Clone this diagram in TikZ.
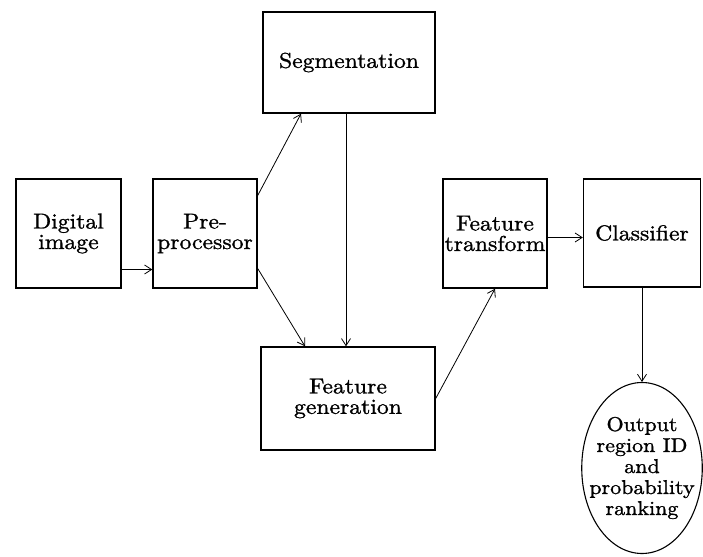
\documentclass[tikz,border=0pt]{standalone}
\usepackage{fontspec}
\setmainfont{lmroman10-regular}[Extension=.otf, FakeStretch=1.1, FakeBold=1.2]
\usepackage{tikz}
\usetikzlibrary{positioning, shapes.geometric, arrows.meta}
\tikzset{
	blocknode/.style={
			rectangle,
			draw=black,
			line width=1.4pt,
			fill=white,
			align=center,
			inner sep=0pt,
			font=\fontsize{21.5}{20.5}\selectfont
		},
	outnode/.style={
			ellipse,
			draw=black,
			line width=1.1pt,
			align=center,
			inner sep=-10pt,
			minimum width=118pt,
			minimum height=171pt,
			font=\fontsize{20}{21}\selectfont
		},
	flow/.style={
			line width=0.8pt,
			-{Straight Barb[length=7pt,width=9pt]}
		}
}

\begin{document}
\begin{tikzpicture}[x=1pt, y=-1pt]
\useasboundingbox (0,0) rectangle (703,556);
\node[blocknode, minimum width=105pt, minimum height=109pt] (digital) at (68.5,233.5) {Digital\\image};
\node[blocknode, minimum width=104pt, minimum height=109pt] (pre) at (205,233.5) {Pre-\\processor};
\node[blocknode, minimum width=172pt, minimum height=101pt] (seg) at (349,62.5) {Segmentation};
\node[blocknode, minimum width=174pt, minimum height=103pt] (fgen) at (348,398.5) {Feature\\generation};
\node[blocknode, minimum width=104pt, minimum height=109pt] (ftrans) at (495,233.5) {Feature\\transform};
\node[blocknode, minimum width=117pt, minimum height=108pt] (class) at (642,233) {Classifier};
\node[outnode] (out) at (642,468) {Output\\region ID\\and\\probability\\ranking};

\draw[flow] ([yshift=-36pt]digital.east) -- ([yshift=-36pt]pre.west);
\draw[flow] ([yshift=38pt]pre.east) -- ([xshift=-48pt]seg.south);
\draw[flow] ([yshift=-35pt]pre.east) -- ([xshift=-43pt]fgen.north);
\draw[flow] ([xshift=-3pt]seg.south) -- ([xshift=-3pt]seg.south |- fgen.north);
\draw[flow] (fgen.east) -- (ftrans.south);
\draw[flow] ([yshift=-4pt]ftrans.east) -- ([yshift=-4pt]ftrans.east -| class.west);
\draw[flow] (class.south -| out.north) -- (out.north);
\end{tikzpicture}
\end{document}
